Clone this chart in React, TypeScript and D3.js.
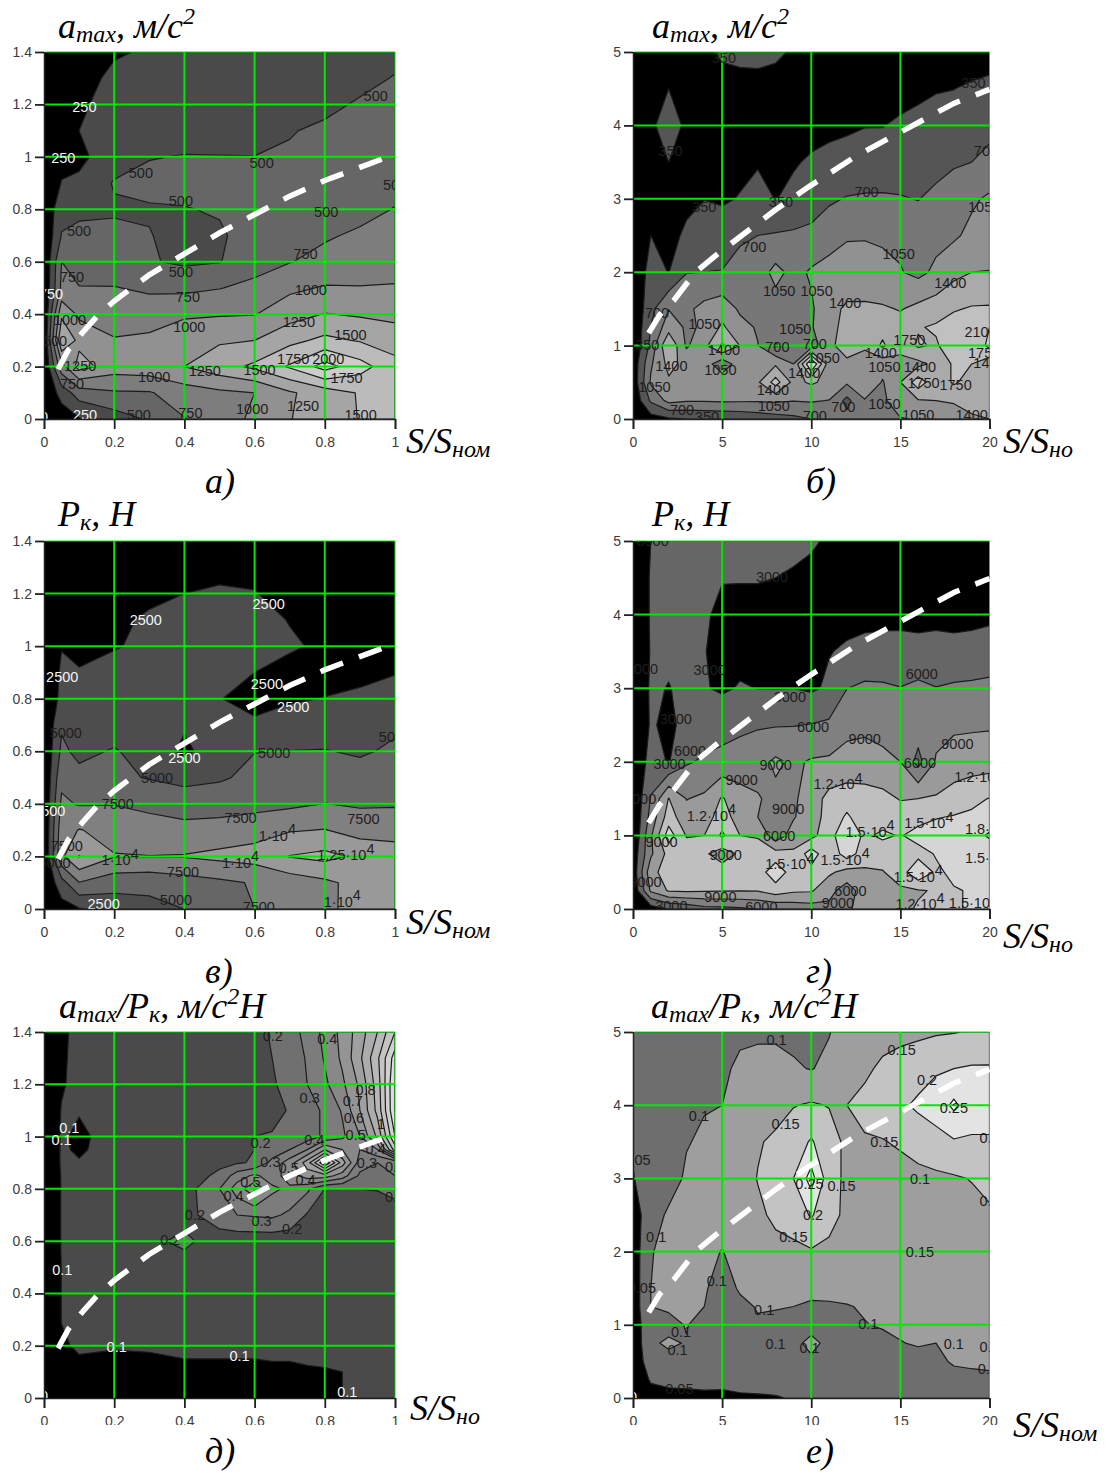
import React, { useEffect, useRef } from 'react';
import * as d3 from 'd3';

// grid nodes
const smallX = [0, 0.05, 0.1, 0.2, 0.3, 0.4, 0.5, 0.6, 0.7, 0.8, 0.9, 1];
const smallY = [1.4, 1.3, 1.2, 1.1, 1, 0.9, 0.8, 0.7, 0.6, 0.5, 0.4, 0.3, 0.2, 0.1, 0];
const bigX = d3.range(0, 21);
const bigY = [5, 4.5, 4, 3.5, 3, 2.5, 2, 1.5, 1.25, 1, 0.75, 0.5, 0.25, 0];
const ratioX = [0, 0.05, 0.1, 0.2, 0.3, 0.4, 0.5, 0.55, 0.6, 0.65, 0.7, 0.75, 0.8, 0.85, 0.9, 0.95, 1];
const ratioY = [1.4, 1.3, 1.2, 1.1, 1, 0.95, 0.9, 0.85, 0.8, 0.7, 0.6, 0.5, 0.4, 0.3, 0.2, 0.1, 0];

const smallXTicks = [0, 0.2, 0.4, 0.6, 0.8, 1];
const smallYTicks = [0, 0.2, 0.4, 0.6, 0.8, 1, 1.2, 1.4];
const bigXTicks = [0, 5, 10, 15, 20];
const bigYTicks = [0, 1, 2, 3, 4, 5];

// white dashed curve
const curveSmallX = [0.04, 0.07, 0.11, 0.15, 0.2, 0.3, 0.4, 0.5, 0.6, 0.7, 0.8, 0.9, 1];
const curveSmallY = [0.19, 0.265, 0.33, 0.39, 0.45, 0.55, 0.63, 0.71, 0.78, 0.85, 0.91, 0.96, 1.01];
const curveBigX = [0.88, 1.5, 2.3, 3.5, 4.8, 6.1, 8, 9.9, 12.5, 15.4, 18, 20];
const curveBigY = [1.17, 1.42, 1.62, 2, 2.26, 2.5, 2.85, 3.17, 3.58, 3.96, 4.3, 4.49];

// a) amax, small range
const zA = [
  [0, 40, 120, 230, 270, 300, 320, 340, 360, 380, 410, 450],
  [0, 60, 180, 290, 320, 340, 360, 380, 400, 420, 450, 510],
  [0, 90, 220, 320, 350, 370, 390, 410, 430, 460, 520, 580],
  [0, 130, 250, 340, 380, 410, 430, 450, 490, 530, 570, 610],
  [0, 180, 200, 370, 490, 510, 505, 502, 520, 560, 600, 640],
  [0, 260, 290, 520, 560, 570, 560, 570, 590, 620, 640, 680],
  [0, 440, 450, 470, 480, 490, 520, 560, 600, 490, 670, 760],
  [0, 510, 560, 560, 510, 420, 470, 600, 680, 720, 790, 850],
  [0, 750, 630, 600, 520, 460, 490, 640, 740, 830, 880, 900],
  [0, 800, 760, 760, 710, 690, 740, 820, 950, 1020, 1010, 1020],
  [0, 1200, 950, 860, 880, 970, 980, 990, 1150, 1260, 1220, 1180],
  [0, 1500, 1180, 1020, 1050, 1130, 1220, 1250, 1430, 1560, 1480, 1390],
  [0, 900, 1350, 1120, 1150, 1250, 1400, 1550, 1780, 2100, 1850, 1580],
  [0, 350, 620, 720, 730, 880, 950, 1000, 1220, 1370, 1520, 1610],
  [0, 100, 230, 380, 530, 740, 850, 1060, 1240, 1380, 1510, 1620],
];

// б) amax, large range
const zB = [
  [0, 100, 150, 200, 250, 420, 480, 500, 430, 300, 250, 200, 180, 170, 160, 150, 150, 140, 130, 120, 100],
  [0, 120, 350, 200, 180, 170, 170, 170, 170, 170, 170, 180, 190, 200, 210, 230, 280, 330, 345, 410, 500],
  [0, 300, 480, 300, 170, 170, 180, 190, 200, 210, 240, 280, 310, 340, 340, 400, 440, 470, 500, 550, 600],
  [0, 180, 350, 220, 220, 230, 260, 320, 260, 320, 390, 430, 450, 480, 500, 530, 550, 590, 660, 700, 800],
  [0, 150, 170, 280, 345, 300, 370, 470, 340, 430, 520, 650, 720, 740, 740, 720, 690, 780, 880, 1000, 1100],
  [0, 350, 260, 400, 470, 560, 650, 700, 730, 750, 790, 900, 1020, 1030, 1020, 980, 880, 950, 1000, 1130, 1200],
  [0, 500, 340, 690, 700, 710, 820, 880, 1150, 950, 1090, 1180, 1200, 1170, 1110, 1070, 960, 1120, 1300, 1400, 1410],
  [0, 600, 1040, 980, 1150, 1250, 1000, 870, 900, 900, 1000, 1300, 1450, 1460, 1440, 1380, 1490, 1570, 1720, 1780, 1790],
  [0, 700, 1250, 1000, 1090, 1460, 1150, 1020, 1000, 1000, 1020, 1300, 1500, 1500, 1640, 1520, 1720, 1800, 1900, 1960, 2100],
  [0, 800, 1750, 1000, 1300, 1800, 1390, 1060, 650, 980, 850, 1350, 1500, 1500, 1800, 1500, 1800, 1700, 2000, 1780, 2200],
  [100, 1000, 1500, 1300, 1250, 800, 1250, 1200, 1350, 1050, 2500, 1200, 1350, 1100, 1200, 1300, 1300, 1500, 1800, 1750, 1500],
  [100, 1100, 1350, 1350, 1330, 1300, 1300, 1350, 1900, 1300, 1450, 1300, 1100, 1380, 1020, 1400, 1950, 1500, 1800, 1600, 1450],
  [50, 750, 1150, 1080, 1080, 1100, 1090, 1080, 1100, 1060, 1080, 1040, 600, 1020, 950, 1350, 1370, 1400, 1420, 1450, 1450],
  [0, 200, 300, 350, 380, 400, 430, 500, 560, 620, 700, 750, 800, 870, 950, 1020, 1080, 1150, 1300, 1380, 1400],
];

// в) Pk, small range
const zC = [
  [0, 300, 600, 900, 1100, 1300, 1400, 1400, 1300, 1200, 1100, 1000],
  [0, 600, 1000, 1400, 1800, 2000, 2200, 2200, 2000, 1700, 1500, 1300],
  [0, 900, 1300, 1800, 2200, 2500, 2650, 2550, 2100, 1800, 1600, 1400],
  [0, 1300, 1700, 2200, 2700, 3000, 3100, 2900, 2450, 2200, 1900, 1700],
  [0, 2400, 2300, 2400, 2800, 3300, 3400, 3100, 2650, 2300, 1900, 1800],
  [0, 2900, 2550, 3000, 3300, 3500, 3200, 2500, 2100, 1900, 2100, 2430],
  [0, 3200, 3400, 3500, 3600, 3500, 2550, 2000, 2300, 2550, 2800, 3100],
  [0, 4700, 3900, 3800, 3400, 2750, 3200, 2750, 3300, 3900, 4200, 4600],
  [0, 5500, 4400, 5200, 4000, 2000, 3800, 4950, 5050, 5100, 4700, 5400],
  [0, 6800, 5700, 5500, 4850, 4300, 4700, 5600, 6000, 6300, 6000, 6500],
  [0, 8000, 7300, 7400, 7000, 6300, 6400, 6700, 7000, 7550, 7200, 7300],
  [0, 9000, 10100, 9300, 8400, 8300, 8500, 9000, 9800, 10100, 9000, 8800],
  [0, 9500, 12600, 10100, 10050, 10150, 10600, 11000, 12600, 13200, 12000, 11500],
  [0, 4000, 7400, 6000, 5800, 6400, 7000, 7700, 8600, 9500, 10800, 11000],
  [0, 1500, 2300, 3500, 4200, 5000, 6000, 7500, 8400, 9700, 10500, 10800],
];

// г) Pk, large range
const zD = [
  [0, 3000, 3500, 3800, 3900, 4000, 4100, 4000, 3900, 3700, 3300, 2700, 2500, 2400, 2300, 2300, 2300, 2300, 2300, 2300, 2300],
  [0, 3300, 3600, 3800, 3500, 3150, 3150, 3150, 3000, 2700, 2400, 2300, 2200, 2200, 2200, 2300, 2400, 2400, 2400, 2400, 2400],
  [0, 3300, 3500, 3600, 3400, 2300, 2200, 2200, 2200, 2200, 2200, 2200, 2300, 2500, 2600, 2700, 2700, 2700, 2700, 2700, 2700],
  [0, 3200, 3500, 3300, 3100, 2200, 2200, 2200, 2300, 2300, 2400, 2900, 3300, 3500, 3500, 3400, 3300, 3400, 3300, 3400, 3700],
  [0, 3400, 2900, 3600, 3200, 2600, 3200, 2950, 2900, 2980, 2600, 3400, 5950, 6600, 6500, 6100, 6800, 6100, 6500, 6700, 7000],
  [0, 3300, 2400, 3800, 4400, 5000, 5300, 5700, 5800, 5900, 6100, 6500, 8200, 8500, 8300, 8000, 7600, 8000, 8500, 8600, 8700],
  [0, 4200, 2800, 5700, 6400, 6800, 7500, 8000, 9500, 8500, 9300, 9500, 10000, 10000, 9500, 9000, 5000, 9300, 10300, 10500, 10600],
  [0, 6200, 12100, 8900, 9500, 12300, 10000, 9200, 8300, 8500, 10500, 12900, 13500, 13300, 12900, 11800, 12000, 12300, 13300, 14300, 15100],
  [0, 7000, 13500, 10000, 10500, 13500, 10500, 9000, 8700, 8700, 11000, 12800, 15500, 13000, 13800, 13500, 14000, 14800, 15200, 15500, 15800],
  [0, 8500, 16500, 11800, 12000, 15500, 12000, 11800, 7000, 10500, 11000, 14000, 17000, 14500, 15500, 14800, 16000, 16500, 17000, 16500, 18500],
  [1000, 8500, 13000, 13500, 12500, 10500, 12500, 13000, 13200, 12500, 16500, 12800, 16500, 13500, 13500, 13500, 14000, 15200, 16000, 16000, 15800],
  [1000, 11000, 13500, 13500, 13500, 13500, 13500, 13400, 17000, 13500, 14000, 12500, 11000, 11500, 11800, 13500, 17500, 14500, 15600, 16000, 16000],
  [500, 9500, 12300, 12500, 12300, 12200, 12100, 12200, 13500, 12500, 12300, 10000, 7500, 10500, 12000, 11500, 11800, 12200, 14800, 15200, 15500],
  [0, 1500, 3000, 3800, 5000, 5200, 5500, 6000, 6500, 7000, 7500, 8200, 8800, 9500, 10500, 11500, 12200, 13000, 14800, 15200, 15500],
];

// д) ratio, small range, finer nodes around the two peaks
const zE = [
  [0, 0.08, 0.13, 0.13, 0.13, 0.13, 0.14, 0.15, 0.17, 0.21, 0.26, 0.33, 0.43, 0.53, 0.65, 0.8, 1],
  [0, 0.085, 0.13, 0.14, 0.14, 0.14, 0.15, 0.16, 0.17, 0.2, 0.24, 0.31, 0.41, 0.52, 0.68, 0.88, 1.15],
  [0, 0.09, 0.13, 0.14, 0.14, 0.14, 0.15, 0.16, 0.17, 0.19, 0.23, 0.3, 0.38, 0.48, 0.62, 0.85, 1.2],
  [0, 0.105, 0.105, 0.14, 0.14, 0.14, 0.15, 0.155, 0.16, 0.18, 0.205, 0.25, 0.32, 0.41, 0.6, 0.83, 1.2],
  [0, 0.11, 0.085, 0.13, 0.14, 0.14, 0.15, 0.15, 0.2, 0.205, 0.205, 0.25, 0.32, 0.38, 0.5, 0.72, 1.1],
  [0, 0.11, 0.09, 0.13, 0.14, 0.14, 0.15, 0.16, 0.2, 0.24, 0.3, 0.4, 0.6, 0.5, 0.4, 0.5, 0.95],
  [0, 0.11, 0.105, 0.13, 0.14, 0.14, 0.18, 0.19, 0.21, 0.33, 0.45, 0.65, 1, 0.65, 0.35, 0.3, 0.3],
  [0, 0.105, 0.115, 0.13, 0.14, 0.15, 0.22, 0.35, 0.42, 0.35, 0.45, 0.55, 0.55, 0.45, 0.28, 0.25, 0.3],
  [0, 0.105, 0.12, 0.13, 0.14, 0.15, 0.3, 0.45, 0.58, 0.42, 0.38, 0.32, 0.2, 0.2, 0.2, 0.205, 0.24],
  [0, 0.105, 0.12, 0.13, 0.14, 0.15, 0.28, 0.3, 0.31, 0.32, 0.28, 0.19, 0.15, 0.14, 0.14, 0.14, 0.14],
  [0, 0.105, 0.12, 0.13, 0.17, 0.23, 0.13, 0.14, 0.14, 0.14, 0.14, 0.14, 0.14, 0.14, 0.14, 0.14, 0.14],
  [0, 0.102, 0.12, 0.13, 0.14, 0.14, 0.14, 0.14, 0.14, 0.14, 0.14, 0.14, 0.14, 0.14, 0.14, 0.14, 0.14],
  [0, 0.102, 0.12, 0.13, 0.14, 0.14, 0.14, 0.14, 0.14, 0.14, 0.14, 0.14, 0.14, 0.14, 0.14, 0.14, 0.14],
  [0, 0.102, 0.12, 0.13, 0.14, 0.14, 0.14, 0.14, 0.14, 0.14, 0.14, 0.14, 0.14, 0.14, 0.14, 0.14, 0.14],
  [0, 0.09, 0.11, 0.103, 0.105, 0.11, 0.11, 0.11, 0.11, 0.115, 0.115, 0.115, 0.115, 0.118, 0.12, 0.122, 0.125],
  [0, 0.05, 0.08, 0.085, 0.085, 0.09, 0.09, 0.09, 0.09, 0.09, 0.09, 0.095, 0.097, 0.1, 0.103, 0.107, 0.11],
  [0, 0.02, 0.04, 0.05, 0.06, 0.07, 0.08, 0.082, 0.085, 0.087, 0.09, 0.092, 0.095, 0.1, 0.105, 0.108, 0.11],
];

// е) ratio, large range
const zF = [
  [0.055, 0.06, 0.065, 0.07, 0.08, 0.09, 0.095, 0.095, 0.095, 0.09, 0.09, 0.098, 0.12, 0.125, 0.13, 0.14, 0.142, 0.145, 0.148, 0.153, 0.155],
  [0.055, 0.06, 0.065, 0.07, 0.08, 0.095, 0.105, 0.11, 0.11, 0.105, 0.098, 0.11, 0.12, 0.14, 0.16, 0.165, 0.175, 0.195, 0.2, 0.205, 0.205],
  [0.055, 0.06, 0.065, 0.075, 0.098, 0.1, 0.11, 0.115, 0.13, 0.148, 0.155, 0.148, 0.15, 0.165, 0.17, 0.19, 0.21, 0.22, 0.26, 0.22, 0.22],
  [0.055, 0.06, 0.07, 0.098, 0.105, 0.11, 0.12, 0.145, 0.16, 0.175, 0.205, 0.17, 0.14, 0.145, 0.148, 0.155, 0.165, 0.185, 0.195, 0.195, 0.195],
  [0.048, 0.07, 0.085, 0.105, 0.11, 0.115, 0.125, 0.152, 0.165, 0.2, 0.27, 0.17, 0.14, 0.13, 0.13, 0.135, 0.14, 0.14, 0.145, 0.152, 0.16],
  [0.02, 0.085, 0.105, 0.11, 0.115, 0.125, 0.125, 0.14, 0.16, 0.17, 0.205, 0.165, 0.14, 0.13, 0.13, 0.13, 0.13, 0.13, 0.13, 0.135, 0.145],
  [0.02, 0.098, 0.11, 0.11, 0.115, 0.098, 0.12, 0.13, 0.135, 0.14, 0.145, 0.14, 0.14, 0.14, 0.14, 0.14, 0.14, 0.14, 0.14, 0.14, 0.14],
  [0.02, 0.1, 0.11, 0.11, 0.105, 0.08, 0.105, 0.115, 0.12, 0.125, 0.11, 0.105, 0.12, 0.125, 0.13, 0.13, 0.135, 0.135, 0.14, 0.14, 0.14],
  [0.02, 0.1, 0.105, 0.105, 0.1, 0.07, 0.09, 0.103, 0.105, 0.1, 0.095, 0.098, 0.097, 0.105, 0.115, 0.12, 0.125, 0.13, 0.13, 0.135, 0.135],
  [0.01, 0.098, 0.09, 0.102, 0.085, 0.07, 0.085, 0.095, 0.08, 0.09, 0.08, 0.08, 0.085, 0.098, 0.105, 0.11, 0.12, 0.125, 0.125, 0.13, 0.13],
  [0.01, 0.095, 0.105, 0.098, 0.07, 0.065, 0.07, 0.08, 0.1, 0.085, 0.115, 0.085, 0.08, 0.08, 0.085, 0.098, 0.105, 0.1, 0.101, 0.105, 0.115],
  [0.01, 0.08, 0.09, 0.075, 0.07, 0.065, 0.065, 0.07, 0.07, 0.07, 0.09, 0.07, 0.07, 0.07, 0.07, 0.075, 0.08, 0.09, 0.105, 0.108, 0.11],
  [0.01, 0.055, 0.058, 0.058, 0.058, 0.056, 0.06, 0.06, 0.062, 0.064, 0.066, 0.068, 0.07, 0.07, 0.072, 0.074, 0.076, 0.08, 0.085, 0.088, 0.09],
  [0, 0.03, 0.04, 0.042, 0.044, 0.045, 0.046, 0.047, 0.048, 0.052, 0.054, 0.055, 0.056, 0.058, 0.06, 0.06, 0.06, 0.06, 0.06, 0.06, 0.06],
];

const levelsA = [250, 500, 750, 1000, 1250, 1500, 1750, 2000];
const levelsB = [350, 700, 1050, 1400, 1750, 2100];
const levelsC = [2500, 5000, 7500, 10000, 12500];
const levelsD = [3000, 6000, 9000, 12000, 15000, 18000];
const levelsE = d3.range(1, 15).map((d) => d / 10);
const levelsF = [0.05, 0.1, 0.15, 0.2, 0.25];

// one grey per level, the lowest band is the black background
const greysA = ['#4a4a4a', '#666666', '#7d7d7d', '#919191', '#a5a5a5', '#bbbbbb', '#cccccc', '#e0e0e0'];
const greysB = ['#555555', '#777777', '#919191', '#aaaaaa', '#c0c0c0', '#d5d5d5'];
const greysC = ['#4d4d4d', '#666666', '#808080', '#999999', '#aaaaaa'];
const greysD = ['#666666', '#808080', '#9a9a9a', '#bfbfbf', '#d5d5d5', '#eeeeee'];
const greysE = ['#4a4a4a', '#707070', '#7c7c7c', '#888888', '#949494', '#a0a0a0', '#acacac', '#b8b8b8', '#c4c4c4', '#d0d0d0', '#dcdcdc', '#e4e4e4', '#ececec', '#f2f2f2'];
const greysF = ['#6e6e6e', '#9e9e9e', '#c3c3c3', '#e3e3e3', '#ffffff'];

type Label = [number, number, string];

const darkA: Label[] = [
  [0.945, 1.233, '500'], [0.276, 0.938, '500'], [0.62, 0.976, '500'], [0.39, 0.832, '500'], [0.804, 0.789, '500'],
  [0.1, 0.717, '500'], [0.745, 0.63, '750'], [0.39, 0.562, '500'], [0.08, 0.543, '750'], [0.41, 0.467, '750'],
  [0.76, 0.492, '1000'], [0.074, 0.38, '1000'], [0.414, 0.352, '1000'], [0.726, 0.371, '1250'], [0.873, 0.323, '1500'],
  [0.71, 0.228, '1750'], [0.81, 0.228, '2000'], [0.458, 0.184, '1250'], [0.614, 0.187, '1500'], [0.314, 0.161, '1000'],
  [0.862, 0.158, '1750'], [0.103, 0.202, '1250'], [0.08, 0.136, '750'], [0.593, 0.04, '1000'], [0.738, 0.05, '1250'],
  [0.902, 0.018, '1500'], [0.417, 0.022, '750'], [0.27, 0.018, '500'], [1, 0.893, '500'], [0.02, 0.3, '1500'],
];
const lightA: Label[] = [
  [0.115, 1.19, '250'], [0.055, 0.995, '250'], [0.02, 0.477, '750'], [0.117, 0.015, '250'], [0, 0.01, '0'],
];

const darkB: Label[] = [
  [5.1, 4.92, '350'], [2.1, 3.66, '350'], [19.1, 4.58, '350'], [19.8, 3.66, '700'], [4, 2.89, '350'], [8.3, 2.96, '350'],
  [13.1, 3.09, '700'], [19.7, 2.89, '1050'], [6.8, 2.34, '700'], [14.9, 2.25, '1050'], [17.8, 1.86, '1400'],
  [8.2, 1.75, '1050'], [10.3, 1.75, '1050'], [11.9, 1.59, '1400'], [1.35, 1.45, '700'], [4, 1.3, '1050'],
  [9.1, 1.23, '1050'], [19.5, 1.19, '2100'], [15.5, 1.08, '1750'], [10.2, 1.02, '700'], [5.1, 0.94, '1400'],
  [8.1, 0.99, '700'], [0.8, 1.01, '350'], [19.7, 0.9, '1750'], [10.7, 0.84, '1050'], [13.9, 0.9, '1400'],
  [2.15, 0.72, '1400'], [4.9, 0.67, '1050'], [14.1, 0.71, '1050'], [16.1, 0.71, '1400'], [9.6, 0.63, '1400'],
  [1.2, 0.44, '1050'], [16.3, 0.49, '1750'], [18.1, 0.46, '1750'], [7.85, 0.4, '1400'], [7.9, 0.18, '1050'],
  [14.1, 0.21, '1050'], [11.8, 0.16, '700'], [2.75, 0.12, '700'], [4.15, 0.03, '350'], [10.2, 0.04, '700'],
  [16, 0.055, '1050'], [19, 0.06, '1400'], [20, 0.76, '1400'],
];
const lightB: Label[] = [];

const darkC: Label[] = [
  [0.062, 0.672, '5000'], [0.656, 0.593, '5000'], [0.322, 0.5, '5000'], [0.21, 0.4, '7500'], [0.56, 0.348, '7500'],
  [0.91, 0.345, '7500'], [0.665, 0.28, '1·10^4'], [0.065, 0.24, '7500'], [0.217, 0.187, '1·10^4'], [0.56, 0.176, '1·10^4'],
  [0.86, 0.205, '1.25·10^4'], [0.396, 0.14, '7500'], [0.03, 0.176, '5000'], [0.376, 0.034, '5000'], [0.612, 0.009, '7500'],
  [0.85, 0.028, '1·10^4'], [1, 0.655, '5000'],
];
const lightC: Label[] = [
  [0.29, 1.1, '2500'], [0.64, 1.16, '2500'], [0.052, 0.885, '2500'], [0.635, 0.855, '2500'], [0.71, 0.77, '2500'],
  [0.4, 0.576, '2500'], [0.015, 0.373, '2500'], [0.17, 0.018, '2500'],
];

const darkD: Label[] = [
  [1.1, 5, '3000'], [7.8, 4.51, '3000'], [0.5, 3.26, '3000'], [4.3, 3.25, '3000'], [8.8, 2.88, '3000'], [16.2, 3.2, '6000'],
  [2.4, 2.58, '3000'], [10.1, 2.48, '6000'], [13, 2.31, '9000'], [18.2, 2.25, '9000'], [3.2, 2.15, '6000'], [2.05, 1.97, '3000'],
  [8, 1.96, '9000'], [16.1, 1.98, '6000'], [6.1, 1.75, '9000'], [11.5, 1.7, '1.2·10^4'], [19.4, 1.79, '1.2·10^4'],
  [0.4, 1.5, '6000'], [8.7, 1.36, '9000'], [4.4, 1.27, '1.2·10^4'], [16.6, 1.17, '1.5·10^4'], [13.3, 1.05, '1.5·10^4'],
  [20, 1.09, '1.8·10^4'], [8.2, 1, '6000'], [1.6, 0.91, '9000'], [5.2, 0.735, '9000'], [11.9, 0.67, '1.5·10^4'],
  [8.8, 0.61, '1.5·10^4'], [20, 0.69, '1.5·10^4'], [16, 0.44, '1.5·10^4'], [0.7, 0.37, '9000'], [12.2, 0.245, '6000'],
  [4.9, 0.16, '9000'], [11.5, 0.08, '9000'], [2.15, 0.04, '3000'], [7.2, 0.03, '6000'], [16.1, 0.07, '1.2·10^4'],
  [19.1, 0.09, '1.5·10^4'],
];
const lightD: Label[] = [];

const darkE: Label[] = [
  [0.652, 1.387, '0.2'], [0.807, 1.374, '0.4'], [0.916, 1.18, '0.8'], [0.757, 1.148, '0.3'], [0.88, 1.136, '0.7'],
  [0.883, 1.07, '0.6'], [0.96, 1.05, '1'], [0.888, 1.005, '0.5'], [0.617, 0.977, '0.2'], [0.77, 0.986, '0.4'],
  [0.645, 0.903, '0.3'], [0.945, 0.954, '0.4'], [0.92, 0.9, '0.3'], [0.697, 0.882, '0.5'], [0.745, 0.833, '0.4'],
  [0.588, 0.827, '0.5'], [0.54, 0.772, '0.4'], [0.43, 0.702, '0.2'], [0.62, 0.678, '0.3'], [0.707, 0.649, '0.2'],
  [0.36, 0.604, '0.2'], [1, 0.884, '0.2'], [1, 0.77, '0.2'],
];
const lightE: Label[] = [
  [0.072, 1.035, '0.1'], [0.05, 0.986, '0.1'], [0.052, 0.49, '0.1'], [0.207, 0.197, '0.1'], [0.557, 0.162, '0.1'],
  [0.864, 0.022, '0.1'], [0, 0.01, '0'],
];

const darkF: Label[] = [
  [8.05, 4.9, '0.1'], [15.07, 4.76, '0.15'], [16.5, 4.35, '0.2'], [18, 3.97, '0.25'], [3.7, 3.85, '0.1'], [8.56, 3.75, '0.15'],
  [14.1, 3.5, '0.15'], [20, 3.56, '0.2'], [0.2, 3.26, '0.05'], [16.1, 3, '0.1'], [9.9, 2.93, '0.25'], [11.7, 2.9, '0.15'],
  [20, 2.7, '0.1'], [10.1, 2.5, '0.2'], [1.3, 2.2, '0.1'], [9, 2.2, '0.15'], [16.1, 2, '0.15'], [4.7, 1.6, '0.1'],
  [0.5, 1.51, '0.05'], [7.36, 1.2, '0.1'], [13.2, 1.01, '0.1'], [2.7, 0.91, '0.1'], [18, 0.74, '0.1'], [8, 0.74, '0.1'],
  [9.9, 0.69, '0.1'], [20, 0.7, '0.1'], [2.5, 0.66, '0.1'], [19.9, 0.4, '0.1'], [2.6, 0.12, '0.05'],
];
const lightF: Label[] = [[0, 0.01, '0']];

// title pieces: [text, 'm' main | 'b' sub | 'p' sup]
const titleAmax = [['a', 'm'], ['max', 'b'], [', м/с', 'm'], ['2', 'p']];
const titleP = [['P', 'm'], ['к', 'b'], [', Н', 'm']];
const titleRatio = [['a', 'm'], ['max', 'b'], ['/P', 'm'], ['к', 'b'], [', м/с', 'm'], ['2', 'p'], ['Н', 'm']];
const xNameLong = [['S/S', 'm'], ['ном', 'b']];
const xNameShort = [['S/S', 'm'], ['но', 'b']];

const panels = [
  { id: 'a', left: 44, top: 52, bottom: 419, xs: smallX, ys: smallY, z: zA, levels: levelsA, greys: greysA, dark: darkA, light: lightA, big: false,
    title: titleAmax, tx: 58, ty: 38, xName: xNameLong, nx: 406, ny: 453, tag: 'а)', gx: 205, gy: 493, cut: 0 },
  { id: 'b', left: 633, top: 52, bottom: 419, xs: bigX, ys: bigY, z: zB, levels: levelsB, greys: greysB, dark: darkB, light: lightB, big: true,
    title: titleAmax, tx: 652, ty: 38, xName: xNameShort, nx: 1003, ny: 453, tag: 'б)', gx: 806, gy: 493, cut: 0 },
  { id: 'c', left: 44, top: 541, bottom: 909, xs: smallX, ys: smallY, z: zC, levels: levelsC, greys: greysC, dark: darkC, light: lightC, big: false,
    title: titleP, tx: 58, ty: 526, xName: xNameLong, nx: 406, ny: 934, tag: 'в)', gx: 205, gy: 983, cut: 0 },
  { id: 'd', left: 633, top: 541, bottom: 909, xs: bigX, ys: bigY, z: zD, levels: levelsD, greys: greysD, dark: darkD, light: lightD, big: true,
    title: titleP, tx: 652, ty: 526, xName: xNameShort, nx: 1003, ny: 948, tag: 'г)', gx: 806, gy: 983, cut: 0 },
  { id: 'e', left: 44, top: 1032, bottom: 1398, xs: ratioX, ys: ratioY, z: zE, levels: levelsE, greys: greysE, dark: darkE, light: lightE, big: false,
    title: titleRatio, tx: 59, ty: 1018, xName: xNameShort, nx: 410, ny: 1420, tag: 'д)', gx: 205, gy: 1463, cut: 1425 },
  { id: 'f', left: 633, top: 1032, bottom: 1398, xs: bigX, ys: bigY, z: zF, levels: levelsF, greys: greysF, dark: darkF, light: lightF, big: true,
    title: titleRatio, tx: 651, ty: 1018, xName: xNameLong, nx: 1013, ny: 1437, tag: 'е)', gx: 806, gy: 1463, cut: 1425 },
];

const green = '#00e800';
const sans = '"Liberation Sans", Arial, sans-serif';
const serif = '"Liberation Serif", "Times New Roman", serif';

function addItalic(svg: any, pieces: string[][], x: number, y: number) {
  const t = svg.append('text').attr('x', x).attr('y', y)
    .attr('font-family', serif).attr('font-style', 'italic').attr('fill', '#000');
  let shift = 0;
  pieces.forEach(([s, kind]) => {
    const want = kind === 'b' ? 4 : kind === 'p' ? -14 : 0;
    t.append('tspan').attr('dy', want - shift)
      .attr('font-size', kind === 'm' ? 36 : 24).text(s);
    shift = want;
  });
}

function addLabels(g: any, list: Label[], color: string, px: any, py: any) {
  list.forEach(([x, y, s]) => {
    const [head, sup] = s.split('^');
    const t = g.append('text').attr('x', px(x)).attr('y', py(y)).attr('dy', '0.36em')
      .attr('text-anchor', 'middle').attr('font-size', 14.5).attr('fill', color).text(head);
    if (sup) t.append('tspan').attr('dy', '-0.45em').text(sup);
  });
}

function drawPanel(svg: any, p: any) {
  const plotW = p.big ? 356.5 : 351;
  const xMax = p.big ? 20 : 1;
  const yMax = p.big ? 5 : 1.4;
  const x = d3.scaleLinear().domain([0, xMax]).range([p.left, p.left + plotW]);
  const y = d3.scaleLinear().domain([0, yMax]).range([p.bottom, p.top]);

  // contour coordinates -> data values (grid nodes sit at index + 0.5)
  const colToX = d3.scaleLinear().domain(d3.range(p.xs.length)).range(p.xs).clamp(true);
  const rowToY = d3.scaleLinear().domain(d3.range(p.ys.length)).range(p.ys).clamp(true);
  const path = d3.geoPath(d3.geoTransform({
    point(cx: number, cy: number) {
      (this as any).stream.point(x(colToX(cx - 0.5)), y(rowToY(cy - 0.5)));
    },
  }));

  const clipId = 'clip-' + p.id;
  svg.append('clipPath').attr('id', clipId).append('rect')
    .attr('x', p.left).attr('y', p.top).attr('width', plotW).attr('height', p.bottom - p.top);

  const plot = svg.append('g').attr('clip-path', `url(#${clipId})`);
  plot.append('rect').attr('x', p.left).attr('y', p.top).attr('width', plotW)
    .attr('height', p.bottom - p.top).attr('fill', '#000');

  const contours = d3.contours().size([p.xs.length, p.ys.length]).thresholds(p.levels);
  contours(p.z.flat()).forEach((c: any, i: number) => {
    plot.append('path').attr('d', path(c)).attr('fill', p.greys[i])
      .attr('stroke', '#1c1c1c').attr('stroke-width', 1.2).attr('stroke-linejoin', 'round');
  });

  // green grid
  const xTicks = p.big ? bigXTicks : smallXTicks;
  const yTicks = p.big ? bigYTicks : smallYTicks;
  const grid = svg.append('g').attr('stroke', green);
  xTicks.slice(1).forEach((d: number) => {
    grid.append('line').attr('x1', x(d)).attr('x2', x(d)).attr('y1', p.top).attr('y2', p.bottom)
      .attr('stroke-width', d === xMax ? 1 : 2);
  });
  yTicks.slice(1).forEach((d: number) => {
    grid.append('line').attr('x1', p.left + 1).attr('x2', p.left + plotW).attr('y1', y(d)).attr('y2', y(d))
      .attr('stroke-width', d === yMax ? 1 : 2);
  });

  const labels = svg.append('g').attr('clip-path', `url(#${clipId})`).attr('font-family', sans);
  addLabels(labels, p.dark, '#1e1e1e', x, y);
  addLabels(labels, p.light, '#f4f4f4', x, y);

  // axes
  const styleAxis = (a: any) => {
    a.attr('font-family', sans).attr('font-size', 14);
    a.selectAll('path').attr('stroke', '#222').attr('stroke-width', 1.5);
    a.selectAll('line').attr('stroke', '#222').attr('stroke-width', 1.8);
    a.selectAll('text').attr('fill', '#3c3c3c');
  };
  const xAxis = svg.append('g').attr('transform', `translate(0,${p.bottom})`)
    .call(d3.axisBottom(x).tickValues(xTicks).tickFormat(String as any).tickSize(10).tickSizeOuter(10).tickPadding(8));
  styleAxis(xAxis);
  svg.append('g').attr('transform', `translate(${p.left},0)`)
    .call(d3.axisLeft(y).tickValues(yTicks).tickFormat(String as any).tickSize(9).tickSizeOuter(0).tickPadding(3))
    .call(styleAxis);

  // lower panels have their tick labels cut through
  if (p.cut) {
    const cutId = 'cut-' + p.id;
    svg.append('clipPath').attr('id', cutId).append('rect')
      .attr('x', p.left - 20).attr('y', p.bottom).attr('width', plotW + 40).attr('height', p.cut - p.bottom);
    const wrap = svg.append('g').attr('clip-path', `url(#${cutId})`);
    wrap.node().appendChild(xAxis.node());
  }

  // dashed white curve goes over everything
  const cx = p.big ? curveBigX : curveSmallX;
  const cy = p.big ? curveBigY : curveSmallY;
  const line = d3.line<number>().x((d) => x(cx[d])).y((d) => y(cy[d]));
  svg.append('path').attr('d', line(d3.range(cx.length)))
    .attr('fill', 'none').attr('stroke', '#fff').attr('stroke-width', 5.5).attr('stroke-dasharray', '24 17');

  addItalic(svg, p.title, p.tx, p.ty);
  addItalic(svg, p.xName, p.nx, p.ny);
  addItalic(svg, [[p.tag, 'm']], p.gx, p.gy);
}

export default function App() {
  const ref = useRef<SVGSVGElement>(null);

  useEffect(() => {
    const svg = d3.select(ref.current);
    svg.selectAll('*').remove();
    panels.forEach((p) => drawPanel(svg, p));
  }, []);

  return (
    <svg ref={ref} width={1110} height={1473}
      style={{ position: 'absolute', left: 0, top: 0, background: '#fff' }} />
  );
}
